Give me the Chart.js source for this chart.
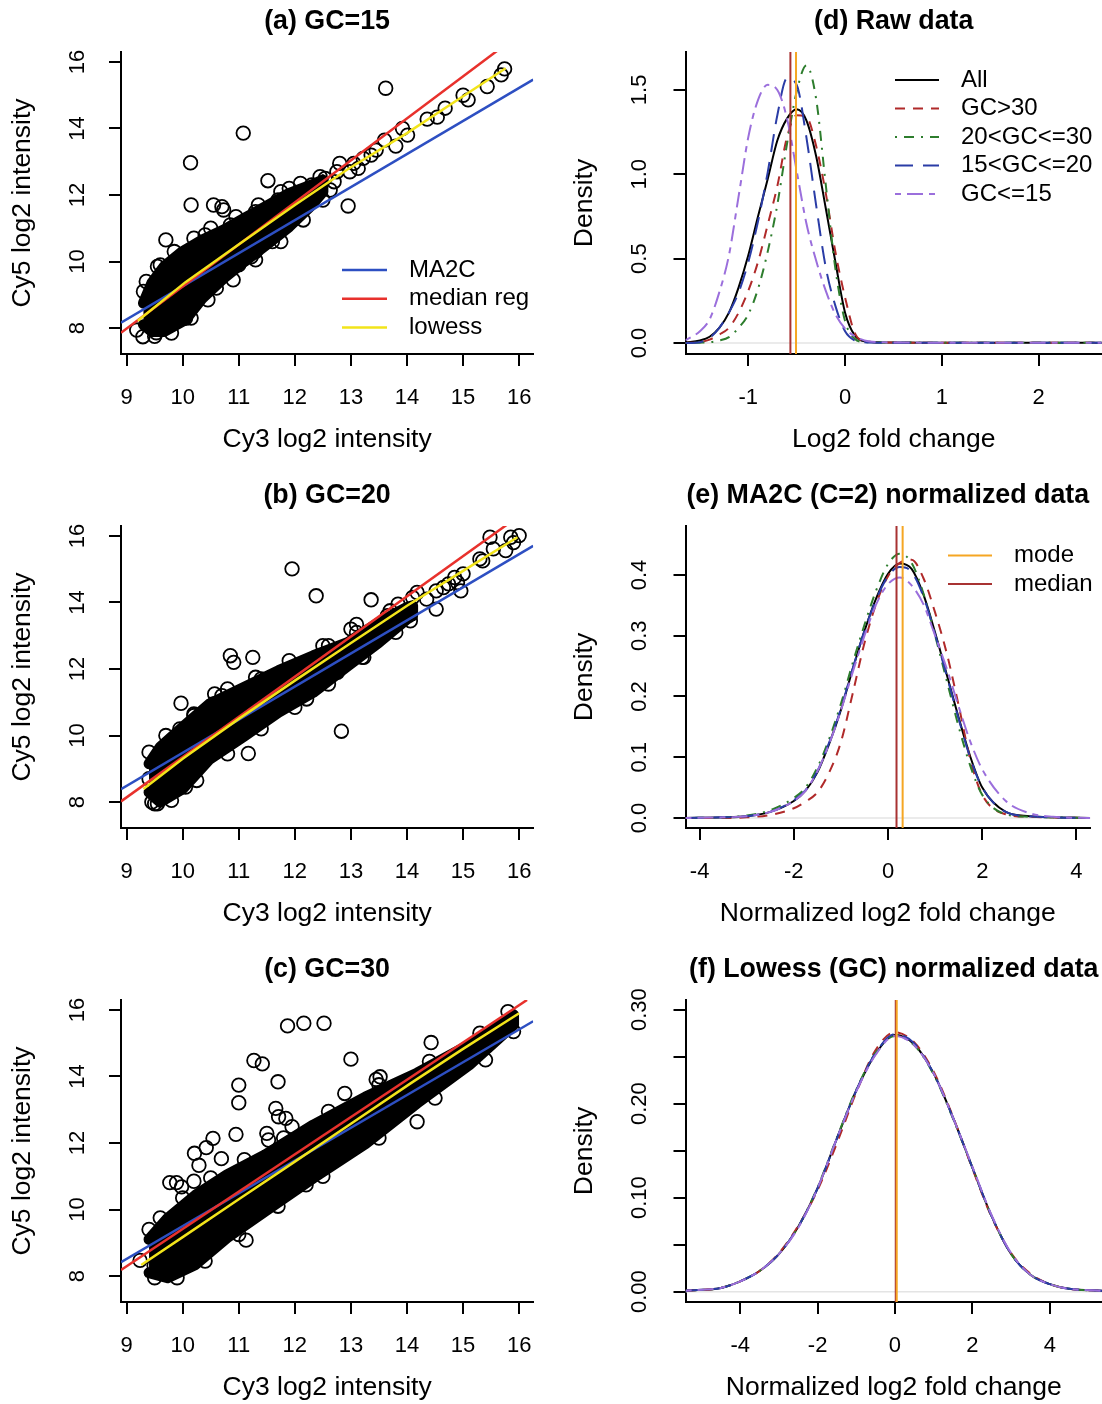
<!DOCTYPE html>
<html>
<head>
<meta charset="utf-8">
<script src="https://cdn.jsdelivr.net/npm/chart.js@4.4.1/dist/chart.umd.min.js"></script>
<style>
  body { margin: 0; background: #fff; }
  #wrap { position: relative; width: 1102px; height: 1404px; }
  canvas { position: absolute; }
</style>
</head>
<body>
<div id="wrap">
  <canvas id="pa" width="551" height="456" style="left:0;top:0"></canvas>
  <canvas id="pb" width="551" height="456" style="left:0;top:474px"></canvas>
  <canvas id="pc" width="551" height="456" style="left:0;top:948px"></canvas>
  <canvas id="pd" width="551" height="456" style="left:551px;top:0"></canvas>
  <canvas id="pe" width="551" height="456" style="left:551px;top:474px"></canvas>
  <canvas id="pf" width="551" height="456" style="left:551px;top:948px"></canvas>
</div>
<script>
// ---- (a) GC=15 : Cy3 vs Cy5 log2 intensity ----
// dense core of the cloud (outermost spot centres, upper edge then lower edge)
var aBandX = [9.30, 9.45, 9.67, 9.98, 10.35, 10.73, 11.10, 11.53, 11.90, 12.30, 12.50, 12.50, 12.30, 11.90, 11.53, 11.10, 10.73, 10.35, 10.05, 9.67, 9.45, 9.30];
var aBandY = [8.75, 9.35, 9.85, 10.28, 10.65, 10.95, 11.30, 11.70, 12.05, 12.30, 12.45, 12.10, 11.70, 11.05, 10.55, 10.00, 9.50, 8.90, 8.25, 7.90, 7.90, 8.10];
var aPtX = [13.62, 11.08, 10.14, 10.15, 10.55, 10.70, 10.73, 11.52, 9.70, 12.95, 11.90, 9.18, 9.29, 9.53, 11.22, 10.05,
  15.74, 15.68, 15.43, 15.09, 15.00, 14.68, 14.54, 14.36, 14.01, 13.92, 13.80, 13.60, 13.45, 13.36, 13.22, 13.13, 12.98, 12.75, 12.54, 12.63, 12.80, 12.45, 12.70, 13.05,
  10.85, 11.30, 10.40, 9.60, 9.30, 10.60, 11.00, 11.60, 11.30, 12.10, 12.30, 11.70,
  9.35, 9.55, 9.85, 10.20, 10.50, 10.95, 11.35, 11.75, 12.10, 12.45, 9.50, 9.80, 10.15, 10.45, 10.90, 11.30, 11.75, 12.15, 12.50];
var aPtY = [15.21, 13.86, 12.97, 11.70, 11.70, 11.65, 11.55, 12.43, 10.65, 11.67, 12.20, 7.94, 7.74, 7.86, 10.14, 8.29,
  15.79, 15.61, 15.26, 14.86, 15.00, 14.61, 14.34, 14.28, 13.80, 14.00, 13.47, 13.65, 13.35, 13.20, 13.10, 12.80, 12.70, 12.70, 12.50, 12.15, 12.95, 12.20, 12.40, 12.95,
  11.10, 11.50, 10.80, 9.90, 9.10, 9.20, 9.90, 10.60, 10.30, 11.50, 12.30, 11.85,
  9.40, 9.85, 10.30, 10.70, 11.00, 11.35, 11.70, 12.10, 12.35, 12.55, 7.75, 7.85, 8.30, 8.85, 9.45, 10.05, 10.60, 11.25, 11.85];
var aMa2cX = [8.90, 16.25], aMa2cY = [8.16, 15.47];
var aMedX = [8.90, 15.62], aMedY = [7.86, 16.35];
var aLowX = [9.20, 10.05, 11.03, 12.02, 12.95, 14.00, 15.00, 15.76];
var aLowY = [8.22, 9.38, 10.55, 11.72, 12.78, 13.86, 14.97, 15.81];

// ---- (b) GC=20 ----
var bBandX = [9.40, 9.60, 10.00, 10.48, 11.10, 11.71, 12.33, 12.95, 13.50, 14.00, 14.10, 14.10, 14.00, 13.50, 12.95, 12.33, 11.71, 11.10, 10.48, 10.00, 9.60, 9.40];
var bBandY = [9.15, 9.65, 10.25, 10.95, 11.45, 11.95, 12.40, 12.80, 13.40, 13.85, 13.90, 13.60, 13.50, 12.80, 12.10, 11.30, 10.70, 9.99, 9.29, 8.40, 8.00, 8.30];
var bPtX = [11.95, 12.38, 13.36, 9.97, 10.85, 10.91, 11.25, 10.57, 11.17, 12.83, 12.21, 13.23, 15.48, 15.54, 15.76, 15.85, 16.00, 15.30, 15.00, 14.96, 14.74, 14.52, 14.52, 14.18, 14.06, 13.84, 13.10,
  12.21, 12.58, 12.76, 9.95, 10.55, 9.45, 9.55, 10.05, 14.85, 14.90, 14.65, 14.35, 15.35, 15.90, 13.65, 13.40, 13.00, 12.60, 11.40, 10.80, 10.20, 11.40, 12.00, 9.40,
  9.40, 9.70, 10.20, 10.70, 11.30, 11.90, 12.50, 13.10, 13.70, 14.10, 9.50, 9.80, 10.25, 10.80, 11.40, 12.00, 12.60, 13.20, 13.80];
var bPtY = [15.01, 14.20, 14.08, 10.97, 12.40, 12.20, 12.35, 11.25, 9.46, 10.13, 11.10, 12.35, 15.96, 15.61, 15.56, 15.96, 16.01, 15.31, 14.86, 14.35, 14.56, 13.80, 14.35, 14.30, 13.45, 13.95, 13.34,
  11.45, 11.80, 11.90, 10.20, 10.95, 8.00, 7.95, 8.45, 14.75, 14.60, 14.45, 14.10, 15.25, 15.80, 13.60, 13.20, 13.20, 12.70, 11.70, 11.40, 10.60, 10.50, 11.10, 8.70,
  9.50, 10.00, 10.65, 11.20, 11.75, 12.25, 12.70, 13.10, 13.75, 14.15, 7.95, 8.05, 8.65, 9.45, 10.20, 10.85, 11.55, 12.35, 13.10];
var bMa2cX = [8.90, 16.25], bMa2cY = [8.39, 15.70];
var bMedX = [8.90, 15.80], bMedY = [8.02, 16.36];
var bLowX = [9.30, 10.00, 11.00, 12.00, 13.00, 14.00, 15.00, 15.97];
var bLowY = [8.39, 9.30, 10.50, 11.65, 12.78, 13.90, 14.95, 15.96];

// ---- (c) GC=30 ----
var cBandX = [9.40, 9.73, 10.23, 10.79, 11.47, 12.33, 13.26, 14.18, 15.11, 15.90, 15.90, 15.11, 14.18, 13.26, 12.33, 11.47, 10.79, 10.23, 9.73, 9.40];
var cBandY = [9.10, 9.73, 10.43, 11.04, 11.64, 12.54, 13.38, 14.10, 14.95, 15.85, 15.55, 14.35, 13.20, 11.98, 10.95, 9.95, 9.15, 8.35, 7.95, 8.10];
var cPtX = [11.87, 12.16, 12.52, 11.27, 11.42, 13.00, 11.00, 11.00, 11.70, 11.66, 11.71, 11.84, 11.95, 12.89, 10.95, 10.54, 10.42, 10.21, 10.69, 10.29, 9.77, 9.89, 9.98, 10.20,
  11.50, 11.53, 12.20, 11.13, 14.18, 14.43, 15.26, 13.45, 13.52, 12.64, 12.70, 9.80, 9.49, 9.24,
  9.40, 9.60, 10.00, 10.50, 11.10, 11.80, 12.60, 13.50, 14.40, 15.30, 15.80, 9.50, 9.90, 10.40, 11.00, 11.70, 12.50, 13.50, 14.50, 15.40, 15.90];
var cPtY = [15.52, 15.60, 15.60, 14.48, 14.38, 14.52, 13.74, 13.21, 13.84, 13.04, 12.79, 12.74, 12.49, 13.49, 12.26, 12.14, 11.86, 11.69, 11.53, 11.33, 10.81, 10.81, 10.68, 10.85,
  12.29, 12.09, 10.74, 9.08, 12.64, 15.02, 14.99, 13.91, 13.99, 12.24, 12.09, 8.32, 8.32, 8.47,
  9.40, 9.75, 10.35, 10.95, 11.50, 12.15, 12.95, 13.75, 14.45, 15.30, 15.95, 7.95, 7.95, 8.45, 9.25, 10.10, 11.00, 12.15, 13.35, 14.50, 15.35];
var cMa2cX = [8.90, 16.25], cMa2cY = [8.42, 15.66];
var cMedX = [8.90, 16.14], cMedY = [8.18, 16.30];
var cLowX = [9.26, 10.00, 11.00, 12.00, 13.00, 14.07, 15.00, 16.00];
var cLowY = [8.33, 9.17, 10.31, 11.44, 12.58, 13.80, 14.83, 15.90];

// ---- (d) Raw data: density of log2 fold change ----
var dGrid = [-1.65, -1.5, -1.4, -1.3, -1.2, -1.1, -1.0, -0.9, -0.8, -0.7, -0.6, -0.5, -0.4, -0.3, -0.2, -0.1, 0, 0.1, 0.2, 0.4, 1, 2, 2.65];
var dAll    = [0.002, 0.015, 0.037, 0.09, 0.18, 0.33, 0.52, 0.75, 0.97, 1.20, 1.33, 1.385, 1.32, 1.11, 0.80, 0.48, 0.18, 0.045, 0.01, 0.003, 0.002, 0.001, 0.001];
var dGC30   = [0, 0.005, 0.02, 0.05, 0.09, 0.18, 0.31, 0.48, 0.70, 0.93, 1.22, 1.35, 1.34, 1.17, 0.89, 0.54, 0.27, 0.06, 0.012, 0.003, 0.002, 0.001, 0.001];
var dGC2030 = [0, 0.002, 0.005, 0.015, 0.035, 0.09, 0.17, 0.32, 0.54, 0.82, 1.18, 1.49, 1.645, 1.45, 0.94, 0.44, 0.13, 0.025, 0.005, 0.003, 0.002, 0.001, 0.001];
var dGC1520 = [0, 0.005, 0.03, 0.09, 0.18, 0.30, 0.48, 0.72, 1.01, 1.35, 1.57, 1.53, 1.22, 0.82, 0.45, 0.22, 0.07, 0.015, 0.004, 0.002, 0.001, 0.001, 0.001];
var dGC15   = [0.015, 0.07, 0.14, 0.30, 0.52, 0.87, 1.22, 1.44, 1.53, 1.50, 1.33, 1.02, 0.71, 0.49, 0.31, 0.17, 0.085, 0.04, 0.015, 0.004, 0.002, 0.001, 0.001];
var dMedian = -0.565, dMode = -0.507;

// ---- (e) MA2C (C=2) normalized ----
var eGrid = [-4.3, -3.5, -3, -2.5, -2, -1.75, -1.5, -1.25, -1, -0.75, -0.5, -0.25, 0, 0.25, 0.5, 0.75, 1, 1.25, 1.5, 1.75, 2, 2.5, 3, 3.5, 4.29];
var eAll    = [0, 0.001, 0.003, 0.01, 0.028, 0.045, 0.075, 0.122, 0.178, 0.245, 0.308, 0.362, 0.402, 0.419, 0.41, 0.368, 0.305, 0.235, 0.165, 0.10, 0.05, 0.01, 0.003, 0.001, 0];
var eGC30   = [0, 0, 0.001, 0.005, 0.016, 0.027, 0.042, 0.075, 0.125, 0.205, 0.288, 0.353, 0.398, 0.42, 0.425, 0.395, 0.338, 0.27, 0.185, 0.095, 0.038, 0.006, 0.002, 0.001, 0];
var eGC2030 = [0, 0.001, 0.004, 0.013, 0.033, 0.05, 0.083, 0.13, 0.188, 0.255, 0.318, 0.375, 0.418, 0.435, 0.42, 0.37, 0.30, 0.225, 0.15, 0.085, 0.038, 0.006, 0.002, 0.001, 0];
var eGC1520 = [0, 0.001, 0.003, 0.01, 0.029, 0.046, 0.077, 0.124, 0.18, 0.246, 0.308, 0.36, 0.398, 0.413, 0.405, 0.365, 0.302, 0.233, 0.163, 0.098, 0.05, 0.01, 0.003, 0.001, 0];
var eGC15   = [0, 0.001, 0.003, 0.01, 0.028, 0.045, 0.077, 0.122, 0.177, 0.24, 0.30, 0.352, 0.385, 0.396, 0.383, 0.352, 0.30, 0.245, 0.183, 0.125, 0.08, 0.028, 0.008, 0.002, 0];
var eMedian = 0.18, eMode = 0.31;

// ---- (f) Lowess (GC) normalized ----
var fGrid = [-5.41, -4.5, -4, -3.5, -3, -2.5, -2, -1.5, -1, -0.5, 0, 0.5, 1, 1.5, 2, 2.5, 3, 3.5, 4, 4.5, 5.35];
var fAll    = [0.001, 0.004, 0.011, 0.022, 0.04, 0.069, 0.11, 0.163, 0.214, 0.253, 0.273, 0.263, 0.232, 0.185, 0.132, 0.08, 0.04, 0.018, 0.008, 0.003, 0.001];
var fGC30   = [0.001, 0.004, 0.011, 0.022, 0.041, 0.07, 0.108, 0.158, 0.212, 0.257, 0.276, 0.265, 0.234, 0.186, 0.131, 0.079, 0.041, 0.019, 0.008, 0.003, 0.001];
var fGC2030 = [0.001, 0.004, 0.011, 0.022, 0.04, 0.069, 0.111, 0.164, 0.215, 0.254, 0.272, 0.262, 0.231, 0.184, 0.132, 0.08, 0.04, 0.018, 0.008, 0.003, 0.001];
var fGC1520 = [0.001, 0.004, 0.011, 0.022, 0.04, 0.069, 0.11, 0.163, 0.214, 0.254, 0.274, 0.264, 0.232, 0.185, 0.132, 0.08, 0.04, 0.018, 0.008, 0.003, 0.001];
var fGC15   = [0.001, 0.004, 0.011, 0.022, 0.04, 0.068, 0.11, 0.163, 0.213, 0.252, 0.272, 0.262, 0.232, 0.185, 0.133, 0.081, 0.041, 0.018, 0.008, 0.003, 0.001];
var fMedian = 0.02, fMode = 0.045;

Chart.defaults.font.family = '"Liberation Sans", Arial, Helvetica, sans-serif';
Chart.defaults.color = '#000';

function pts(xs, ys) {
  return xs.map(function (x, i) { return {x: x, y: ys[i]}; });
}

// R style legend: line sample + text at fixed spot in the panel
var rLegend = {
  id: 'rLegend',
  afterDraw: function (chart, args, opts) {
    if (!opts || !opts.items) return;
    var ctx = chart.ctx;
    ctx.save();
    ctx.font = '24px "Liberation Sans", Arial, sans-serif';
    ctx.textBaseline = 'middle';
    ctx.textAlign = 'left';
    for (var i = 0; i < opts.items.length; i++) {
      var label = opts.items[i];
      var ds = chart.data.datasets.find(function (d) { return d.label === label; });
      var y = opts.y + i * opts.rowH;
      ctx.strokeStyle = ds.borderColor;
      ctx.lineWidth = ds.borderWidth;
      ctx.setLineDash(ds.borderDash || []);
      ctx.beginPath();
      ctx.moveTo(opts.x, y);
      ctx.lineTo(opts.x + opts.lineLen, y);
      ctx.stroke();
      ctx.setLineDash([]);
      ctx.fillStyle = '#000';
      ctx.fillText(label, opts.x + opts.textGap, y);
    }
    ctx.restore();
  }
};

function makeScales(o) {
  var axisLine = {display: true, color: '#000', width: 2};
  var ticksGrid = {drawOnChartArea: false, drawTicks: true, tickLength: 12, color: '#000', lineWidth: 2};
  return {
    x: {
      type: 'linear', position: 'bottom', min: o.xMin, max: o.xMax,
      border: axisLine, grid: ticksGrid,
      ticks: {stepSize: o.xStep, includeBounds: false, autoSkip: false, minRotation: 0, maxRotation: 0,
        padding: 19, font: {size: 22}, callback: function (v) { return String(Math.round(v)); }},
      title: {display: true, text: o.xTitle, font: {size: 26.5}, padding: 0},
      afterFit: function (s) { s.height = 102; }
    },
    y: {
      type: 'linear', position: 'left', min: o.yMin, max: o.yMax,
      border: axisLine, grid: ticksGrid,
      ticks: {stepSize: o.yStep, includeBounds: false, autoSkip: false, minRotation: 90, maxRotation: 90,
        crossAlign: 'center', padding: o.yPad, font: {size: 22}, callback: o.yFmt},
      title: {display: true, text: o.yTitle, font: {size: 26.5}, padding: {top: o.yTitlePad, bottom: 0}},
      afterFit: function (s) { s.width = o.yWidth; }
    }
  };
}

function panel(id, title, datasets, scales, legend, padRight) {
  return new Chart(document.getElementById(id), {
    type: 'scatter',
    data: {datasets: datasets},
    options: {
      responsive: false,
      animation: false,
      devicePixelRatio: 1,
      layout: {padding: {left: 0, right: padRight, top: 0, bottom: 0}, autoPadding: false},
      scales: scales,
      plugins: {
        legend: {display: false},
        tooltip: {enabled: false},
        title: {display: true, text: title, fullSize: false, color: '#000',
          font: {size: 26.8, weight: 'bold'}, padding: {top: 6, bottom: 13.8}},
        rLegend: legend || false
      }
    },
    plugins: [rLegend]
  });
}

function scatterSets(bx, by, px, py, mx, my, rx, ry, lx, ly) {
  return [
    {label: 'lowess', data: pts(lx, ly), showLine: true, borderColor: '#f2e41a', borderWidth: 2.5, pointRadius: 0, order: 1},
    {label: 'median reg', data: pts(rx, ry), showLine: true, borderColor: '#e8312c', borderWidth: 2.5, pointRadius: 0, order: 2},
    {label: 'MA2C', data: pts(mx, my), showLine: true, borderColor: '#2d4fc2', borderWidth: 2.5, pointRadius: 0, order: 3},
    {label: 'spots', data: pts(px, py), showLine: false, pointStyle: 'circle', pointRadius: 6.8,
      borderColor: '#000', pointBorderWidth: 1.8, backgroundColor: 'rgba(0,0,0,0)', order: 4},
    {label: 'dense', data: pts(bx, by), showLine: true, fill: 'shape', tension: 0, backgroundColor: '#000',
      borderColor: '#000', borderWidth: 11, borderJoinStyle: 'round', borderCapStyle: 'round', pointRadius: 0, order: 5}
  ];
}

function densitySets(grid, all, g30, g2030, g1520, g15, med, mode, xr, yr) {
  var curve = function (label, ys, color, dash, order) {
    return {label: label, data: pts(grid, ys), showLine: true, borderColor: color, borderWidth: 2,
      borderDash: dash, cubicInterpolationMode: 'monotone', pointRadius: 0, order: order};
  };
  return [
    {label: 'mode', data: pts([mode, mode], yr), showLine: true, borderColor: '#f5a623', borderWidth: 2, pointRadius: 0, order: 1},
    {label: 'median', data: pts([med, med], yr), showLine: true, borderColor: '#a83232', borderWidth: 2, pointRadius: 0, order: 2},
    curve('GC<=15', g15, '#9b6fdc', [6, 6, 16, 6], 3),
    curve('15<GC<=20', g1520, '#2a3ca6', [18, 10], 4),
    curve('20<GC<=30', g2030, '#2d7d2d', [2, 7, 10, 7], 5),
    curve('GC>30', g30, '#b02a2a', [10, 8], 6),
    curve('All', all, '#000', [], 7),
    {label: 'zero', data: pts(xr, [0, 0]), showLine: true, borderColor: '#e4e4e4', borderWidth: 1.5, pointRadius: 0, order: 8}
  ];
}

var intFmt = function (v) { return String(Math.round(v)); };
var oneDec = function (v) { return v.toFixed(1); };
var twoDecEvery = function (v) { return Math.round(v * 100) % 10 === 0 ? v.toFixed(2) : ''; };

var scatterAxes = {xMin: 8.90, xMax: 16.25, xStep: 1, yMin: 7.22, yMax: 16.30, yStep: 2,
  xTitle: 'Cy3 log2 intensity', yTitle: 'Cy5 log2 intensity', yPad: 18.8, yFmt: intFmt, yTitlePad: 6.9, yWidth: 121};

panel('pa', '(a) GC=15', scatterSets(aBandX, aBandY, aPtX, aPtY, aMa2cX, aMa2cY, aMedX, aMedY, aLowX, aLowY),
  makeScales(scatterAxes), {items: ['MA2C', 'median reg', 'lowess'], x: 342, y: 270, rowH: 28.7, lineLen: 45, textGap: 67}, 12);
panel('pb', '(b) GC=20', scatterSets(bBandX, bBandY, bPtX, bPtY, bMa2cX, bMa2cY, bMedX, bMedY, bLowX, bLowY),
  makeScales(scatterAxes), null, 12);
panel('pc', '(c) GC=30', scatterSets(cBandX, cBandY, cPtX, cPtY, cMa2cX, cMa2cY, cMedX, cMedY, cLowX, cLowY),
  makeScales(scatterAxes), null, 12);

panel('pd', '(d) Raw data',
  densitySets(dGrid, dAll, dGC30, dGC2030, dGC1520, dGC15, dMedian, dMode, [-1.65, 2.655], [-1, 3]),
  makeScales({xMin: -1.649, xMax: 2.655, xStep: 1, yMin: -0.0652, yMax: 1.725, yStep: 0.5,
    xTitle: 'Log2 fold change', yTitle: 'Density', yPad: 18.2, yFmt: oneDec, yTitlePad: 17.5, yWidth: 134.5}),
  {items: ['All', 'GC>30', '20<GC<=30', '15<GC<=20', 'GC<=15'], x: 344, y: 80, rowH: 28.5, lineLen: 44, textGap: 66}, 0);

panel('pe', '(e) MA2C (C=2) normalized data',
  densitySets(eGrid, eAll, eGC30, eGC2030, eGC1520, eGC15, eMedian, eMode, [-4.3, 4.29], [-1, 1]),
  makeScales({xMin: -4.299, xMax: 4.289, xStep: 2, yMin: -0.0165, yMax: 0.4807, yStep: 0.1,
    xTitle: 'Normalized log2 fold change', yTitle: 'Density', yPad: 18.2, yFmt: oneDec, yTitlePad: 17.5, yWidth: 134.5}),
  {items: ['mode', 'median'], x: 397, y: 81.5, rowH: 28.5, lineLen: 44, textGap: 66}, 0);

panel('pf', '(f) Lowess (GC) normalized data',
  densitySets(fGrid, fAll, fGC30, fGC2030, fGC1520, fGC15, fMedian, fMode, [-5.41, 5.35], [-1, 1]),
  makeScales({xMin: -5.413, xMax: 5.349, xStep: 2, yMin: -0.011, yMax: 0.3103, yStep: 0.05,
    xTitle: 'Normalized log2 fold change', yTitle: 'Density', yPad: 12.1, yFmt: twoDecEvery, yTitlePad: 17.5, yWidth: 134.5}),
  null, 0);
</script>
</body>
</html>
